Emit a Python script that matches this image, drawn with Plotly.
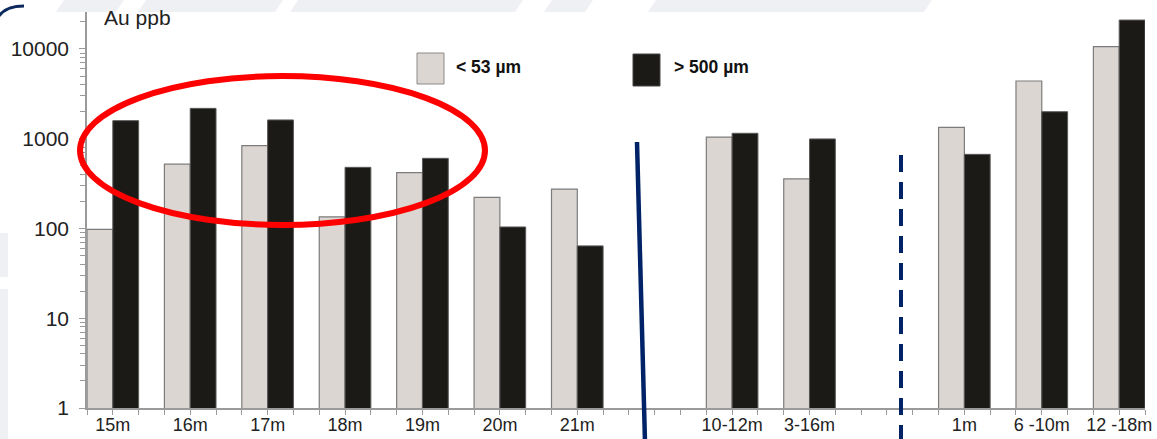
import plotly.graph_objects as go

# Sample groups (empty strings are spacer groups between the drill sections)
groups = ["15m", "16m", "17m", "18m", "19m", "20m", "21m", "",
          "10-12m", "3-16m", "", "1m", "6 -10m", "12 -18m"]

# Au in ppb per size fraction (None for spacer groups)
fine_au = [98, 520, 840, 135, 420, 222, 275, None,
           1040, 357, None, 1340, 4400, 10600]
coarse_au = [1590, 2180, 1620, 480, 605, 104, 64, None,
             1150, 995, None, 670, 2000, 21000]

fine_name = "< 53 µm"
coarse_name = "> 500 µm"
y_ticks = [1, 10, 100, 1000, 10000]

FINE_COLOR = "#dcd6d2"
COARSE_COLOR = "#1c1a17"
EDGE = "#7c7c7c"

# each group takes three unit slots: fine bar, coarse bar, gap
n_units = 3 * len(groups) - 1
fine_x = [3 * i + 0.5 for i, v in enumerate(fine_au) if v is not None]
fine_y = [v for v in fine_au if v is not None]
coarse_x = [3 * i + 1.5 for i, v in enumerate(coarse_au) if v is not None]
coarse_y = [v for v in coarse_au if v is not None]
label_x = [3 * i + 1 for i, g in enumerate(groups) if g]
label_t = [g for g in groups if g]

fig = go.Figure()
fig.add_trace(go.Bar(x=fine_x, y=fine_y, width=1, name=fine_name,
                     marker=dict(color=FINE_COLOR, line=dict(color=EDGE, width=1.2))))
fig.add_trace(go.Bar(x=coarse_x, y=coarse_y, width=1, name=coarse_name,
                     marker=dict(color=COARSE_COLOR, line=dict(color="#5a5a5a", width=1))))

W, H = 1157, 439
L, R, T, B = 87, 12, 12, 31
pw, ph = W - L - R, H - T - B


def px(x):
    return (x - L) / pw


def py(y):
    return (H - B - y) / ph


shapes = []
# light slide background bands
for a, b in [(58, 118), (140, 277), (292, 517), (546, 587), (650, 926)]:
    shapes.append(dict(type="path", xref="paper", yref="paper", layer="below",
                       path=f"M {px(a+6)},{py(0)} L {px(b+6)},{py(0)} L {px(b-2)},{py(12)} L {px(a-2)},{py(12)} Z",
                       fillcolor="#eef0f4", line=dict(width=0)))
for a, b in [(233, 277), (289, 439)]:
    shapes.append(dict(type="rect", xref="paper", yref="paper", layer="below",
                       x0=px(0), x1=px(8), y0=py(b), y1=py(a),
                       fillcolor="#eef0f4", line=dict(width=0)))
# navy arc top-left
shapes.append(dict(type="path", xref="paper", yref="paper",
                   path=f"M {px(-1)},{py(16)} Q {px(6)},{py(6)} {px(24)},{py(6)}",
                   line=dict(color="#0d2a5e", width=3)))
# legend swatches
shapes.append(dict(type="rect", xref="paper", yref="paper",
                   x0=px(417), x1=px(444), y0=py(84), y1=py(53),
                   fillcolor=FINE_COLOR, line=dict(color="#8a8a8a", width=1)))
shapes.append(dict(type="rect", xref="paper", yref="paper",
                   x0=px(633), x1=px(660), y0=py(86), y1=py(54),
                   fillcolor=COARSE_COLOR, line=dict(color="#444", width=1)))
# section dividers
shapes.append(dict(type="line", xref="paper", yref="paper",
                   x0=px(637), y0=py(142), x1=px(645), y1=py(442),
                   line=dict(color="#002266", width=4.5)))
shapes.append(dict(type="line", xref="paper", yref="paper",
                   x0=px(901), y0=py(155), x1=px(901), y1=py(442),
                   line=dict(color="#002266", width=4, dash="17px,10px")))
# highlight ring
shapes.append(dict(type="circle", xref="paper", yref="paper",
                   x0=px(80), x1=px(485), y0=py(225), y1=py(76),
                   line=dict(color="#ff0000", width=6)))

annotations = [
    dict(text="Au ppb", xref="paper", yref="paper", x=px(102), y=py(18),
         xanchor="left", yanchor="middle", showarrow=False,
         font=dict(size=21, color="#222")),
    dict(text=f"<b>{fine_name}</b>", xref="paper", yref="paper", x=px(454), y=py(67),
         xanchor="left", yanchor="middle", showarrow=False,
         font=dict(size=17.5, color="#111")),
    dict(text=f"<b>{coarse_name}</b>", xref="paper", yref="paper", x=px(672), y=py(67),
         xanchor="left", yanchor="middle", showarrow=False,
         font=dict(size=17.5, color="#111")),
]

fig.update_layout(
    width=W, height=H,
    margin=dict(l=L, r=R, t=T, b=B, pad=0, autoexpand=False),
    paper_bgcolor="white", plot_bgcolor="white",
    showlegend=False, barmode="overlay",
    font=dict(family="Liberation Sans, Arial, sans-serif", color="#222"),
    shapes=shapes, annotations=annotations,
)
fig.update_xaxes(
    range=[0, n_units], showgrid=False, zeroline=False, automargin=False,
    showline=True, linecolor="#9a9a9a", linewidth=1.5,
    tickmode="array", tickvals=label_x, ticktext=label_t,
    ticks="", tickfont=dict(size=18, color="#222"), ticklabelstandoff=0,
    minor=dict(tickmode="array", tickvals=list(range(n_units + 1)),
               ticks="outside", ticklen=5, tickcolor="#9a9a9a", tickwidth=1.2),
)
fig.update_yaxes(
    type="log", range=[0, 4.412], showgrid=False, zeroline=False, automargin=False,
    showline=True, linecolor="#9a9a9a", linewidth=1.5,
    tickmode="array", tickvals=y_ticks, ticktext=[str(v) for v in y_ticks],
    ticks="outside", ticklen=6, tickcolor="#9a9a9a", tickwidth=1.2,
    tickfont=dict(size=21, color="#222"), ticklabelstandoff=6,
    minor=dict(dtick="D1", ticks="outside", ticklen=5, tickcolor="#9a9a9a", tickwidth=1),
)

fig.write_html("out.html")
